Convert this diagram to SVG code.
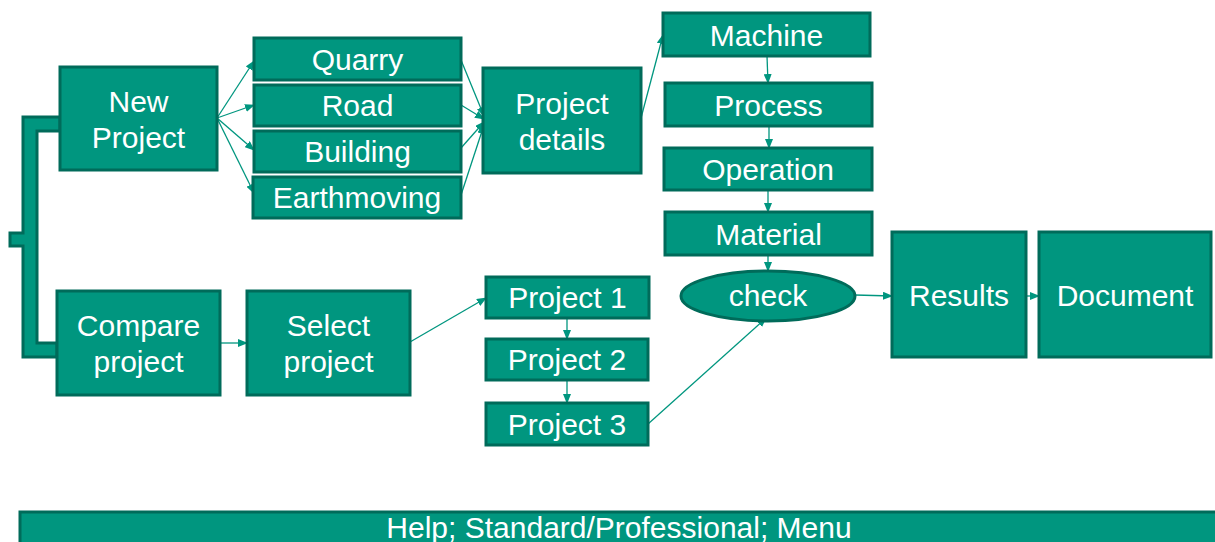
<svg xmlns="http://www.w3.org/2000/svg" width="1215" height="542" viewBox="0 0 1215 542">
<defs>
<marker id="ah" markerWidth="10" markerHeight="8" refX="9" refY="4" orient="auto" markerUnits="userSpaceOnUse">
<path d="M0,0 L10,4 L0,8 Z" fill="#00967F"/>
</marker>
<style>
.box{fill:#00967F;stroke:#006B5A;stroke-width:3}
.t{font-family:"Liberation Sans",Arial,sans-serif;font-size:30px;fill:#ffffff;text-anchor:middle}
.c{fill:none;stroke:#00967F;stroke-width:1.3;marker-end:url(#ah)}
</style>
</defs>
<rect width="1215" height="542" fill="#ffffff"/>
<g id="bracket">
<path class="box" d="M23,117 L60,117 L60,131 L37,131 L37,343 L57,343 L57,357 L23,357 L23,246 L10,246 L10,233 L23,233 Z"/>
</g>
<g id="connectors">
<line class="c" x1="217" y1="118" x2="254" y2="61"/>
<line class="c" x1="217" y1="118" x2="254" y2="105"/>
<line class="c" x1="217" y1="118" x2="254" y2="150"/>
<line class="c" x1="217" y1="118" x2="254" y2="193"/>
<line class="c" x1="461" y1="60" x2="484" y2="116"/>
<line class="c" x1="461" y1="105" x2="484" y2="119"/>
<line class="c" x1="461" y1="148" x2="484" y2="122"/>
<line class="c" x1="461" y1="195" x2="484" y2="125"/>
<line class="c" x1="641" y1="118" x2="663" y2="35"/>
<line class="c" x1="767" y1="56" x2="768" y2="83"/>
<line class="c" x1="769" y1="126" x2="769" y2="148"/>
<line class="c" x1="768" y1="190" x2="768" y2="212"/>
<line class="c" x1="768" y1="255" x2="768" y2="271"/>
<line class="c" x1="855" y1="295" x2="892" y2="296"/>
<line class="c" x1="1027" y1="296" x2="1039" y2="296"/>
<line class="c" x1="220" y1="343" x2="247" y2="343"/>
<line class="c" x1="410" y1="342" x2="486" y2="298"/>
<line class="c" x1="567" y1="318" x2="567" y2="339"/>
<line class="c" x1="567" y1="380" x2="567" y2="403"/>
<line class="c" x1="648" y1="424" x2="766" y2="318"/>
</g>
<g id="new-project"><rect class="box" x="60" y="67" width="157" height="103"/><text class="t" x="138.5" y="111.5">New</text><text class="t" x="138.5" y="147.5">Project</text></g>
<g id="compare-project"><rect class="box" x="57" y="291" width="163" height="104"/><text class="t" x="138.5" y="336">Compare</text><text class="t" x="138.5" y="372">project</text></g>
<g id="quarry"><rect class="box" x="254" y="38" width="207" height="42"/><text class="t" x="357.5" y="70">Quarry</text></g>
<g id="road"><rect class="box" x="254" y="85" width="207" height="41"/><text class="t" x="357.5" y="116">Road</text></g>
<g id="building"><rect class="box" x="254" y="131" width="207" height="41"/><text class="t" x="357.5" y="162">Building</text></g>
<g id="earthmoving"><rect class="box" x="253" y="177" width="208" height="41"/><text class="t" x="357" y="208">Earthmoving</text></g>
<g id="project-details"><rect class="box" x="483" y="68" width="158" height="105"/><text class="t" x="562" y="113.5">Project</text><text class="t" x="562" y="149.5">details</text></g>
<g id="machine"><rect class="box" x="663" y="13" width="207" height="43"/><text class="t" x="766.5" y="45.5">Machine</text></g>
<g id="process"><rect class="box" x="665" y="83" width="207" height="43"/><text class="t" x="768.5" y="115.5">Process</text></g>
<g id="operation"><rect class="box" x="664" y="148" width="208" height="42"/><text class="t" x="768" y="180">Operation</text></g>
<g id="material"><rect class="box" x="665" y="212" width="207" height="43"/><text class="t" x="768.5" y="244.5">Material</text></g>
<g id="check"><ellipse class="box" cx="768" cy="296" rx="87" ry="25"/><text class="t" x="768" y="306">check</text></g>
<g id="results"><rect class="box" x="892" y="232" width="134" height="125"/><text class="t" x="959" y="305.5">Results</text></g>
<g id="document"><rect class="box" x="1039" y="232" width="172" height="125"/><text class="t" x="1125" y="305.5">Document</text></g>
<g id="select-project"><rect class="box" x="247" y="291" width="163" height="104"/><text class="t" x="328.5" y="336">Select</text><text class="t" x="328.5" y="372">project</text></g>
<g id="project-1"><rect class="box" x="486" y="277" width="163" height="41"/><text class="t" x="567.5" y="308">Project 1</text></g>
<g id="project-2"><rect class="box" x="486" y="339" width="162" height="41"/><text class="t" x="567" y="370">Project 2</text></g>
<g id="project-3"><rect class="box" x="486" y="403" width="162" height="42"/><text class="t" x="567" y="435">Project 3</text></g>
<g id="menu-bar"><rect class="box" x="20" y="512" width="1210" height="45"/><text class="t" x="619" y="538">Help; Standard/Professional; Menu</text></g>
</svg>
